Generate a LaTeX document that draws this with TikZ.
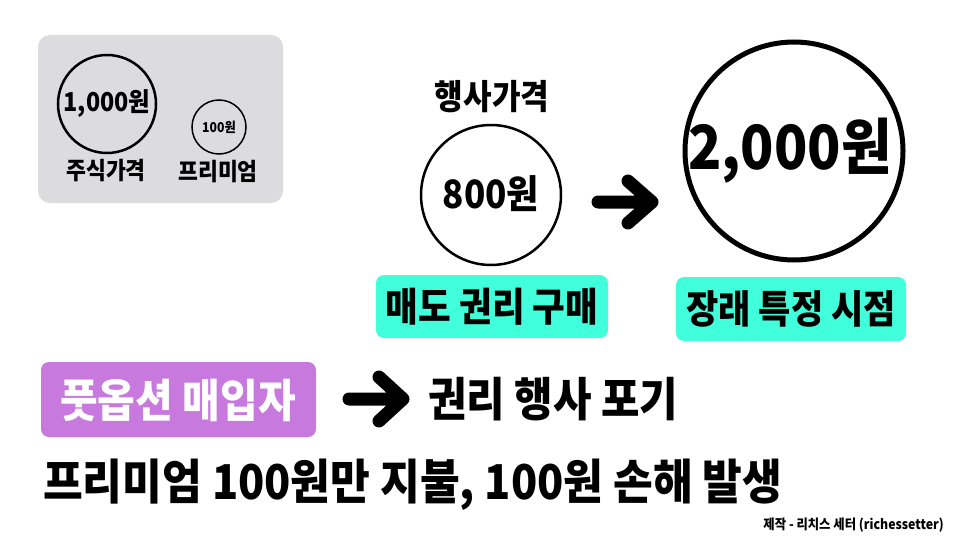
\documentclass[tikz,border=0pt]{standalone}
\usepackage{fontspec}
\setmainfont{Noto Sans CJK KR}[FakeStretch=0.9]
\definecolor{legendgray}{RGB}{220,220,222}
\definecolor{teal1}{RGB}{64,255,218}
\definecolor{purple1}{RGB}{200,121,221}
\tikzset{
  txt/.style={inner sep=0pt, font=\bfseries},
  ring/.style={draw=black, circle, inner sep=0pt},
  tagbox/.style={fill=teal1, rounded corners=8pt},
  fatarrow/.style={line width=13pt, line cap=round, line join=round},
}
\newcommand{\fsz}[1]{\bfseries\fontsize{#1}{#1}\selectfont}
\begin{document}
\begin{tikzpicture}[x=1pt,y=-1pt]
\useasboundingbox (0,0) rectangle (960,540);
\fill[white] (0,0) rectangle (960,540);
% legend
\fill[legendgray, rounded corners=12pt] (38,35) rectangle (283,203);
\node[ring, line width=2.5pt, minimum size=98pt] (c1000) at (107,104) {};
\node[txt, font=\fsz{26}] (t1000) at (107,103) {1,000원};
\node[ring, line width=1.5pt, minimum size=54pt] (c100) at (219,127) {};
\node[txt, font=\fsz{13.6}] (t100) at (219,127) {100원};
\node[txt, font=\fsz{24}] (lstock) at (106,171) {주식가격};
\node[txt, font=\fsz{24}] (lprem) at (218,172) {프리미엄};
% exercise price
\node[txt, font=\fsz{34.5}] (lex) at (492,97) {행사가격};
\node[ring, line width=2.5pt, minimum size=140pt] (c800) at (491,195) {};
\node[txt, font=\fsz{39}] (t800) at (491,194) {800원};
% arrow 1
\coordinate (a1s) at (598,202);
\coordinate (a1t) at (652,202);
\coordinate (a1u) at (628,181);
\coordinate (a1d) at (628,223);
\draw[fatarrow] (a1s) -- (a1t) (a1u) -- (a1t) -- (a1d);
% big circle
\node[ring, line width=5pt, minimum size=218pt] (c2000) at (794,151) {};
\node[txt, font=\fsz{61}] (t2000) at (790,151) {2,000원};
% teal tags
\fill[tagbox] (376,275) rectangle (608,338);
\node[txt, font=\fsz{39.5}] (tbuy) at (492,307) {매도 권리 구매};
\fill[tagbox] (676,277) rectangle (906,341);
\node[txt, font=\fsz{39}] (tfut) at (791,309) {장래 특정 시점};
% purple tag
\fill[purple1, rounded corners=8pt] (41,362) rectangle (316,437);
\node[txt, text=white, font=\fsz{45.5}] (tput) at (178,400) {풋옵션 매입자};
% arrow 2
\coordinate (a2s) at (349,399);
\coordinate (a2t) at (403,399);
\coordinate (a2u) at (379,377);
\coordinate (a2d) at (379,421);
\draw[fatarrow] (a2s) -- (a2t) (a2u) -- (a2t) -- (a2d);
\node[txt, anchor=west, font=\fsz{46.5}] (tgive) at (428,399) {권리 행사 포기};
% bottom
\node[txt, anchor=west, font=\fsz{48}] (tbottom) at (43,485) {프리미엄 100원만 지불, 100원 손해 발생};
\node[txt, anchor=east, font=\fsz{13.7}] (tfoot) at (944,525) {제작 - 리치스 세터 (richessetter)};
\end{tikzpicture}
\end{document}
